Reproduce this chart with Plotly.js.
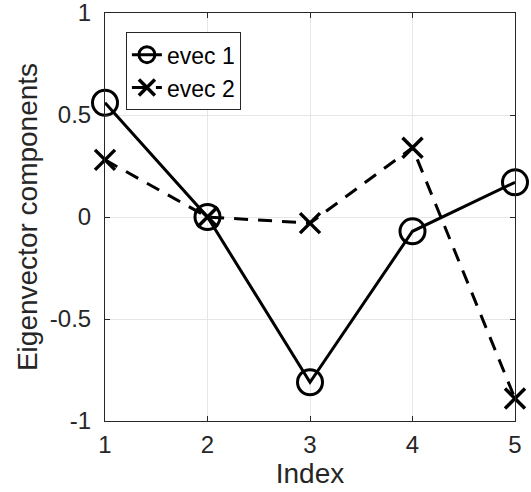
<!DOCTYPE html>
<html>
<head>
<meta charset="utf-8">
<script src="https://cdn.plot.ly/plotly-3.0.1.min.js"></script>
<style>html,body{margin:0;padding:0;background:#fff;}#chart{width:531px;height:492px;}</style>
</head>
<body>
<div id="chart"></div>
<script>
var indexVals = [1, 2, 3, 4, 5];
var evec1 = [0.56, 0.0, -0.81, -0.07, 0.17];
var evec2 = [0.28, 0.0, -0.03, 0.34, -0.89];
var seriesNames = ['evec 1', 'evec 2'];
var xTicks = [1, 2, 3, 4, 5];
var yTicks = [-1, -0.5, 0, 0.5, 1];
var yTickText = ['-1', '-0.5', '0', '0.5', '1'];

var font = 'Liberation Sans, Arial, Helvetica, sans-serif';
var traces = [
  {x: indexVals, y: evec1, name: seriesNames[0], mode: 'lines+markers', cliponaxis: false,
   line: {color: '#000', width: 3},
   marker: {symbol: 'circle-open', size: 25, color: '#000', line: {width: 3, color: '#000'}}},
  {x: indexVals, y: evec2, name: seriesNames[1], mode: 'lines+markers', cliponaxis: false,
   line: {color: '#000', width: 3, dash: '14px,10px'},
   marker: {symbol: 'x-thin-open', size: 20, color: '#000', line: {width: 3.5, color: '#000'}}}
];
var axisCommon = {
  showline: true, linecolor: '#262626', linewidth: 1, mirror: 'ticks',
  ticks: 'inside', ticklen: 5, tickcolor: '#262626', tickwidth: 1,
  showgrid: true, gridcolor: '#e6e6e6', gridwidth: 1, zeroline: false,
  ticklabeloverflow: 'allow',
  tickfont: {family: font, size: 24, color: '#262626'}
};
var layout = {
  width: 531, height: 492,
  margin: {l: 105, r: 16, t: 13, b: 71},
  paper_bgcolor: '#fff', plot_bgcolor: '#fff',
  showlegend: true,
  legend: {x: 0.051, y: 0.953, xanchor: 'left', yanchor: 'top',
           bgcolor: '#fff', bordercolor: '#262626', borderwidth: 1,
           font: {family: font, size: 23, color: '#000'}, tracegroupgap: 0},
  xaxis: Object.assign({}, axisCommon, {
    range: [1, 5], tickvals: xTicks, ticktext: xTicks.map(String), ticklabelstandoff: 2,
    title: {text: 'Index', font: {family: font, size: 28, color: '#262626'}, standoff: 0}
  }),
  yaxis: Object.assign({}, axisCommon, {
    range: [-1, 1], tickvals: yTicks, ticktext: yTickText, ticklabelstandoff: 8,
    title: {text: 'Eigenvector components', font: {family: font, size: 28, color: '#262626'}, standoff: 4}
  })
};
Plotly.newPlot('chart', traces, layout, {displayModeBar: false, staticPlot: true});
</script>
</body>
</html>
